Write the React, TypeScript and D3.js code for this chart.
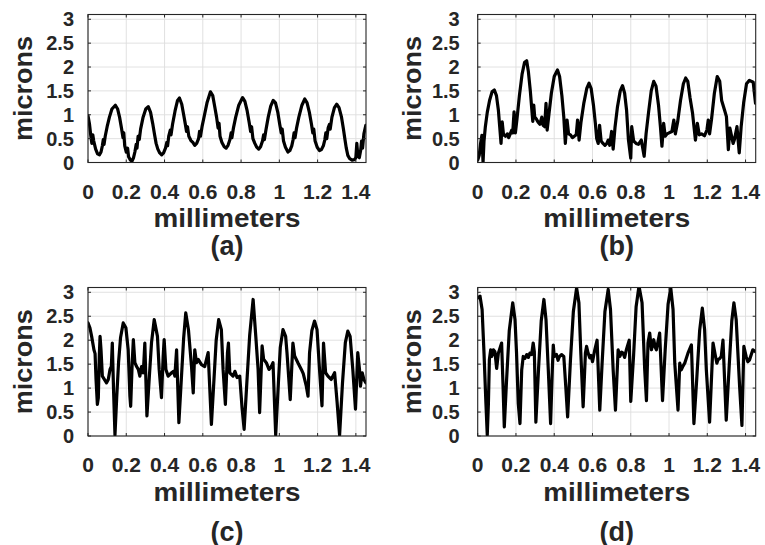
import React from "react";
import * as d3 from "d3";

const xTicks = [0, 0.2, 0.4, 0.6, 0.8, 1, 1.2, 1.4];
const xTickLabels = ["0", "0.2", "0.4", "0.6", "0.8", "1", "1.2", "1.4"];
const yTicks = [0, 0.5, 1, 1.5, 2, 2.5, 3];
const yTickLabels = ["0", "0.5", "1", "1.5", "2", "2.5", "3"];
const xDomain: [number, number] = [0, 1.453];
const yDomain: [number, number] = [0, 3.1];
const xLabel = "millimeters";
const yLabel = "microns";
const captions = ["(a)", "(b)", "(c)", "(d)"];

// [millimeters, microns]
const seriesA: [number, number][] = [
  [0.000, 0.98], [0.008, 0.80], [0.015, 0.55], [0.020, 0.40], [0.025, 0.58], [0.030, 0.45],
  [0.040, 0.28], [0.050, 0.18], [0.060, 0.16], [0.068, 0.22], [0.075, 0.35], [0.080, 0.48],
  [0.084, 0.38], [0.090, 0.55], [0.100, 0.75], [0.112, 0.95], [0.125, 1.12], [0.143, 1.20],
  [0.155, 1.12], [0.165, 0.95], [0.175, 0.72], [0.183, 0.52], [0.187, 0.62], [0.192, 0.35],
  [0.200, 0.22], [0.207, 0.30], [0.212, 0.12], [0.222, 0.05], [0.230, 0.03], [0.238, 0.10],
  [0.245, 0.22], [0.252, 0.38], [0.256, 0.30], [0.262, 0.55], [0.268, 0.48], [0.275, 0.70],
  [0.288, 0.95], [0.302, 1.12], [0.315, 1.17], [0.327, 1.05], [0.338, 0.82], [0.348, 0.58],
  [0.356, 0.40], [0.365, 0.28], [0.375, 0.20], [0.385, 0.16], [0.395, 0.20], [0.405, 0.30],
  [0.412, 0.42], [0.416, 0.35], [0.422, 0.55], [0.430, 0.68], [0.434, 0.58], [0.442, 0.80],
  [0.455, 1.08], [0.468, 1.30], [0.478, 1.35], [0.490, 1.22], [0.500, 1.00], [0.508, 0.82],
  [0.515, 0.65], [0.520, 0.75], [0.527, 0.55], [0.538, 0.46], [0.548, 0.42], [0.558, 0.36],
  [0.568, 0.40], [0.578, 0.50], [0.583, 0.65], [0.588, 0.55], [0.596, 0.75], [0.608, 0.98],
  [0.622, 1.25], [0.640, 1.48], [0.652, 1.40], [0.662, 1.18], [0.672, 0.95], [0.680, 0.72],
  [0.685, 0.82], [0.690, 0.55], [0.700, 0.42], [0.712, 0.33], [0.722, 0.30], [0.732, 0.36],
  [0.742, 0.48], [0.748, 0.62], [0.752, 0.52], [0.760, 0.72], [0.772, 0.95], [0.788, 1.20],
  [0.808, 1.36], [0.820, 1.28], [0.832, 1.08], [0.842, 0.85], [0.850, 0.65], [0.855, 0.75],
  [0.862, 0.50], [0.872, 0.40], [0.882, 0.32], [0.892, 0.28], [0.902, 0.33], [0.912, 0.45],
  [0.918, 0.58], [0.922, 0.48], [0.930, 0.68], [0.942, 0.95], [0.955, 1.18], [0.968, 1.30],
  [0.980, 1.25], [0.992, 1.05], [1.002, 0.80], [1.010, 0.62], [1.015, 0.70], [1.022, 0.45],
  [1.032, 0.32], [1.045, 0.22], [1.055, 0.25], [1.065, 0.35], [1.072, 0.48], [1.077, 0.62],
  [1.082, 0.52], [1.090, 0.72], [1.102, 0.95], [1.118, 1.20], [1.133, 1.33], [1.145, 1.25],
  [1.157, 1.05], [1.168, 0.80], [1.175, 0.62], [1.180, 0.70], [1.187, 0.45], [1.198, 0.32],
  [1.210, 0.25], [1.220, 0.27], [1.230, 0.35], [1.238, 0.48], [1.243, 0.62], [1.248, 0.50],
  [1.255, 0.72], [1.262, 0.80], [1.266, 0.70], [1.275, 0.95], [1.288, 1.15], [1.300, 1.22],
  [1.312, 1.15], [1.325, 0.95], [1.335, 0.70], [1.343, 0.48], [1.350, 0.30], [1.358, 0.15],
  [1.368, 0.08], [1.380, 0.05], [1.392, 0.06], [1.400, 0.10], [1.405, 0.40], [1.410, 0.15],
  [1.418, 0.10], [1.425, 0.25], [1.430, 0.45], [1.435, 0.30], [1.442, 0.60], [1.452, 0.78],
];

const seriesB: [number, number][] = [
  [0.000, 0.05], [0.008, 0.15], [0.015, 0.40], [0.022, 0.57], [0.028, 0.00], [0.033, 0.45],
  [0.040, 0.75], [0.050, 1.05], [0.062, 1.30], [0.075, 1.48], [0.087, 1.52], [0.098, 1.40],
  [0.108, 1.10], [0.115, 0.75], [0.122, 0.40], [0.128, 0.85], [0.135, 0.58], [0.145, 0.55],
  [0.155, 0.60], [0.162, 0.52], [0.170, 0.60], [0.178, 0.68], [0.183, 0.62], [0.190, 1.06],
  [0.197, 0.62], [0.205, 0.90], [0.218, 1.40], [0.232, 1.85], [0.245, 2.10], [0.256, 2.13],
  [0.265, 1.90], [0.275, 1.50], [0.282, 1.15], [0.288, 0.86], [0.293, 1.20], [0.298, 0.95],
  [0.305, 0.92], [0.315, 0.85], [0.325, 0.80], [0.335, 0.95], [0.342, 0.78], [0.350, 0.75],
  [0.357, 1.24], [0.363, 0.68], [0.372, 1.00], [0.385, 1.45], [0.400, 1.80], [0.417, 1.94],
  [0.428, 1.80], [0.440, 1.40], [0.450, 0.95], [0.458, 0.40], [0.467, 0.89], [0.475, 0.60],
  [0.485, 0.58], [0.495, 0.52], [0.505, 0.55], [0.515, 0.58], [0.522, 0.89], [0.530, 0.47],
  [0.540, 0.85], [0.555, 1.25], [0.570, 1.55], [0.582, 1.66], [0.593, 1.55], [0.605, 1.20],
  [0.615, 0.82], [0.622, 0.50], [0.630, 0.40], [0.637, 0.78], [0.645, 0.45], [0.655, 0.40],
  [0.665, 0.36], [0.675, 0.40], [0.682, 0.47], [0.690, 0.36], [0.700, 0.65], [0.708, 0.28],
  [0.718, 0.75], [0.730, 1.15], [0.745, 1.50], [0.757, 1.61], [0.768, 1.45], [0.778, 1.10],
  [0.788, 0.47], [0.800, 0.09], [0.805, 0.75], [0.815, 0.45], [0.828, 0.40], [0.840, 0.38],
  [0.855, 0.47], [0.870, 0.13], [0.880, 0.60], [0.893, 1.05], [0.907, 1.50], [0.920, 1.70],
  [0.932, 1.60], [0.945, 1.20], [0.955, 0.75], [0.963, 0.34], [0.972, 0.82], [0.980, 0.55],
  [0.990, 0.60], [1.000, 0.62], [1.015, 0.65], [1.025, 0.89], [1.033, 0.60], [1.045, 0.85],
  [1.060, 1.30], [1.075, 1.65], [1.087, 1.77], [1.098, 1.70], [1.110, 1.35], [1.123, 1.03],
  [1.138, 0.47], [1.148, 0.82], [1.158, 0.58], [1.170, 0.60], [1.185, 0.56], [1.198, 0.68],
  [1.205, 0.89], [1.212, 0.60], [1.222, 0.90], [1.237, 1.45], [1.252, 1.80], [1.265, 1.70],
  [1.275, 1.30], [1.290, 1.10], [1.300, 0.96], [1.310, 0.27], [1.318, 0.72], [1.335, 0.40],
  [1.342, 0.48], [1.355, 0.75], [1.367, 0.20], [1.377, 0.75], [1.390, 1.25], [1.405, 1.65],
  [1.420, 1.72], [1.440, 1.68], [1.452, 1.24],
];

const seriesC: [number, number][] = [
  [0.000, 2.36], [0.010, 2.26], [0.019, 2.08], [0.031, 1.80], [0.037, 1.72], [0.042, 1.18],
  [0.049, 0.66], [0.054, 0.80], [0.059, 1.67], [0.063, 2.08], [0.068, 1.80], [0.075, 1.25],
  [0.083, 1.20], [0.097, 1.11], [0.106, 1.18], [0.115, 1.39], [0.122, 1.45], [0.127, 1.94],
  [0.134, 0.90], [0.141, 0.02], [0.150, 0.80], [0.160, 1.55], [0.170, 2.05], [0.184, 2.36],
  [0.198, 2.26], [0.210, 1.80], [0.219, 0.83], [0.223, 0.62], [0.231, 1.53], [0.237, 2.01],
  [0.245, 1.53], [0.254, 1.45], [0.263, 1.39], [0.271, 1.25], [0.280, 1.45], [0.289, 1.32],
  [0.297, 1.94], [0.308, 0.42], [0.320, 1.20], [0.332, 1.95], [0.346, 2.43], [0.363, 2.08],
  [0.372, 1.39], [0.384, 0.80], [0.393, 1.67], [0.398, 2.01], [0.407, 1.39], [0.419, 1.25],
  [0.437, 1.32], [0.447, 1.35], [0.454, 1.25], [0.463, 1.80], [0.475, 0.28], [0.488, 1.20],
  [0.500, 2.05], [0.511, 2.57], [0.525, 2.22], [0.541, 1.45], [0.550, 0.90], [0.558, 1.80],
  [0.567, 1.53], [0.576, 1.60], [0.593, 1.49], [0.610, 1.45], [0.628, 1.74], [0.645, 0.24],
  [0.658, 1.15], [0.670, 2.00], [0.683, 2.43], [0.697, 2.22], [0.706, 1.39], [0.718, 0.66],
  [0.729, 1.74], [0.734, 1.94], [0.741, 1.32], [0.758, 1.25], [0.768, 1.35], [0.779, 1.22],
  [0.793, 1.25], [0.805, 0.60], [0.816, 0.14], [0.830, 1.10], [0.845, 2.10], [0.863, 2.85],
  [0.877, 2.08], [0.889, 1.39], [0.897, 0.49], [0.910, 1.88], [0.918, 1.60], [0.932, 1.53],
  [0.946, 1.39], [0.958, 1.45], [0.967, 1.53], [0.981, 0.02], [0.995, 1.10], [1.005, 1.85],
  [1.019, 2.22], [1.033, 2.08], [1.040, 1.74], [1.057, 0.76], [1.071, 1.94], [1.080, 1.67],
  [1.097, 1.53], [1.115, 1.39], [1.125, 1.30], [1.141, 1.04], [1.150, 0.83], [1.158, 1.74],
  [1.170, 2.20], [1.184, 2.40], [1.197, 2.22], [1.210, 1.39], [1.223, 0.63], [1.231, 1.94],
  [1.242, 1.32], [1.254, 1.25], [1.271, 1.18], [1.289, 1.32], [1.302, 0.70], [1.315, 0.02],
  [1.330, 1.10], [1.345, 1.95], [1.358, 2.19], [1.370, 2.08], [1.384, 1.39], [1.398, 0.56],
  [1.410, 1.74], [1.419, 1.39], [1.424, 1.04], [1.433, 1.32], [1.442, 1.18], [1.452, 1.11],
];

const seriesD: [number, number][] = [
  [0.000, 2.88], [0.012, 2.92], [0.023, 2.64], [0.033, 1.73], [0.043, 0.68], [0.050, 0.02],
  [0.056, 0.68], [0.061, 1.59], [0.068, 1.80], [0.073, 1.66], [0.082, 1.80], [0.090, 1.76],
  [0.099, 1.41], [0.108, 1.73], [0.125, 1.94], [0.132, 1.10], [0.139, 0.19], [0.150, 1.10],
  [0.165, 2.20], [0.183, 2.78], [0.195, 2.43], [0.203, 1.73], [0.212, 0.68], [0.221, 0.26],
  [0.230, 1.38], [0.238, 1.66], [0.247, 1.62], [0.256, 1.70], [0.265, 1.64], [0.273, 1.73],
  [0.282, 1.70], [0.290, 1.94], [0.296, 1.76], [0.304, 0.29], [0.318, 1.40], [0.332, 2.40],
  [0.346, 2.85], [0.357, 2.43], [0.369, 1.38], [0.381, 0.26], [0.390, 1.38], [0.395, 1.90],
  [0.400, 1.66], [0.412, 1.70], [0.420, 1.58], [0.426, 1.65], [0.438, 1.70], [0.450, 1.66],
  [0.460, 1.05], [0.470, 0.40], [0.485, 1.60], [0.500, 2.60], [0.517, 3.09], [0.529, 2.78],
  [0.539, 1.73], [0.551, 0.61], [0.563, 1.73], [0.569, 1.87], [0.577, 1.73], [0.586, 1.63],
  [0.593, 1.68], [0.600, 1.55], [0.612, 1.80], [0.624, 2.00], [0.638, 0.54], [0.650, 1.50],
  [0.665, 2.60], [0.682, 3.06], [0.694, 2.64], [0.708, 1.38], [0.720, 0.54], [0.734, 1.80],
  [0.743, 1.66], [0.752, 1.75], [0.760, 1.73], [0.768, 1.64], [0.777, 1.80], [0.792, 2.00],
  [0.800, 0.72], [0.815, 1.70], [0.828, 2.70], [0.843, 3.13], [0.859, 2.78], [0.873, 1.38],
  [0.882, 0.74], [0.890, 1.94], [0.899, 2.15], [0.908, 1.80], [0.920, 2.01], [0.928, 1.85],
  [0.934, 1.80], [0.951, 2.15], [0.966, 0.74], [0.980, 1.80], [0.995, 2.75], [1.009, 3.09],
  [1.021, 2.64], [1.030, 1.52], [1.047, 0.54], [1.056, 1.52], [1.064, 1.38], [1.073, 1.46],
  [1.082, 1.52], [1.099, 1.73], [1.117, 1.90], [1.130, 0.26], [1.145, 1.20], [1.160, 2.20],
  [1.174, 2.67], [1.186, 2.22], [1.195, 1.38], [1.212, 0.29], [1.230, 1.94], [1.243, 1.66],
  [1.250, 1.52], [1.256, 1.59], [1.265, 1.62], [1.273, 1.66], [1.282, 2.00], [1.299, 0.33],
  [1.315, 1.50], [1.328, 2.40], [1.339, 2.78], [1.351, 2.43], [1.369, 1.03], [1.381, 0.22],
  [1.391, 1.87], [1.403, 1.66], [1.412, 1.55], [1.421, 1.59], [1.438, 1.80], [1.452, 1.76],
];

const allSeries = [seriesA, seriesB, seriesC, seriesD];

const FONT = "'Liberation Sans', Arial, Helvetica, sans-serif";
const TEXT = "#262626";

type Layout = { left: number; top: number; width: number; height: number; tickGap: number; captionY: number };

const layouts: Layout[] = [
  { left: 88, top: 14.5, width: 278, height: 148, tickGap: 14, captionY: 255 },
  { left: 477.7, top: 14.5, width: 278, height: 148, tickGap: 18, captionY: 255 },
  { left: 88, top: 287.5, width: 278, height: 148.5, tickGap: 14, captionY: 541 },
  { left: 477.7, top: 287.5, width: 278, height: 148.5, tickGap: 18, captionY: 541 },
];

function Panel({ data, layout, caption, id }: { data: [number, number][]; layout: Layout; caption: string; id: string }) {
  const { left, top, width, height, tickGap, captionY } = layout;
  const x = d3.scaleLinear().domain(xDomain).range([left, left + width]);
  const y = d3.scaleLinear().domain(yDomain).range([top + height, top]);
  const line = d3
    .line<[number, number]>()
    .x((d) => x(d[0]))
    .y((d) => y(d[1]));
  const bottom = top + height;
  const right = left + width;
  const cx = left + width / 2;
  const cy = top + height / 2;
  const tl = 3;
  return (
    <g>
      <defs>
        <clipPath id={id}>
          <rect x={left} y={top} width={width} height={height} />
        </clipPath>
      </defs>
      <rect x={left} y={top} width={width} height={height} fill="#fff" />
      {xTicks.map((t) => (
        <line key={"gx" + t} x1={x(t)} x2={x(t)} y1={top} y2={bottom} stroke="#dedede" strokeWidth={0.9} />
      ))}
      {yTicks.map((t) => (
        <line key={"gy" + t} x1={left} x2={right} y1={y(t)} y2={y(t)} stroke="#dedede" strokeWidth={0.9} />
      ))}
      <path
        d={line(data) || ""}
        fill="none"
        stroke="#000"
        strokeWidth={3.2}
        strokeLinejoin="round"
        strokeLinecap="round"
        clipPath={`url(#${id})`}
      />
      {xTicks.map((t) => (
        <g key={"tx" + t}>
          <line x1={x(t)} x2={x(t)} y1={bottom} y2={bottom - tl} stroke={TEXT} strokeWidth={1} />
          <line x1={x(t)} x2={x(t)} y1={top} y2={top + tl} stroke={TEXT} strokeWidth={1} />
        </g>
      ))}
      {yTicks.map((t) => (
        <g key={"ty" + t}>
          <line x1={left} x2={left + tl} y1={y(t)} y2={y(t)} stroke={TEXT} strokeWidth={1} />
          <line x1={right} x2={right - tl} y1={y(t)} y2={y(t)} stroke={TEXT} strokeWidth={1} />
        </g>
      ))}
      <rect x={left} y={top} width={width} height={height} fill="none" stroke={TEXT} strokeWidth={1.1} />
      {xTicks.map((t, i) => (
        <text
          key={"lx" + t}
          x={x(t)}
          y={bottom + 36}
          textAnchor="middle"
          fontFamily={FONT}
          fontWeight="bold"
          fontSize={21}
          fill={TEXT}
        >
          {xTickLabels[i]}
        </text>
      ))}
      {yTicks.map((t, i) => (
        <text
          key={"ly" + t}
          x={left - tickGap}
          y={y(t)}
          dy="0.36em"
          textAnchor="end"
          fontFamily={FONT}
          fontWeight="bold"
          fontSize={20}
          fill={TEXT}
        >
          {yTickLabels[i]}
        </text>
      ))}
      <text
        x={cx}
        y={bottom + 64.5}
        textAnchor="middle"
        fontFamily={FONT}
        fontWeight="bold"
        fontSize={26}
        fill={TEXT}
        textLength={147}
        lengthAdjust="spacingAndGlyphs"
      >
        {xLabel}
      </text>
      <text
        transform={`translate(${left - 56.3},${cy}) rotate(-90)`}
        textAnchor="middle"
        fontFamily={FONT}
        fontWeight="bold"
        fontSize={26}
        fill={TEXT}
        textLength={105}
        lengthAdjust="spacingAndGlyphs"
      >
        {yLabel}
      </text>
      <text
        x={cx}
        y={captionY}
        textAnchor="middle"
        fontFamily={FONT}
        fontWeight="bold"
        fontSize={27}
        fill={TEXT}
      >
        {caption}
      </text>
    </g>
  );
}

export default function App() {
  return (
    <svg
      width={765}
      height={545}
      viewBox="0 0 765 545"
      style={{ position: "absolute", left: 0, top: 0, background: "#fff" }}
    >
      <rect x={0} y={0} width={765} height={545} fill="#fff" />
      {allSeries.map((s, i) => (
        <Panel key={i} data={s} layout={layouts[i]} caption={captions[i]} id={"clip" + i} />
      ))}
    </svg>
  );
}
